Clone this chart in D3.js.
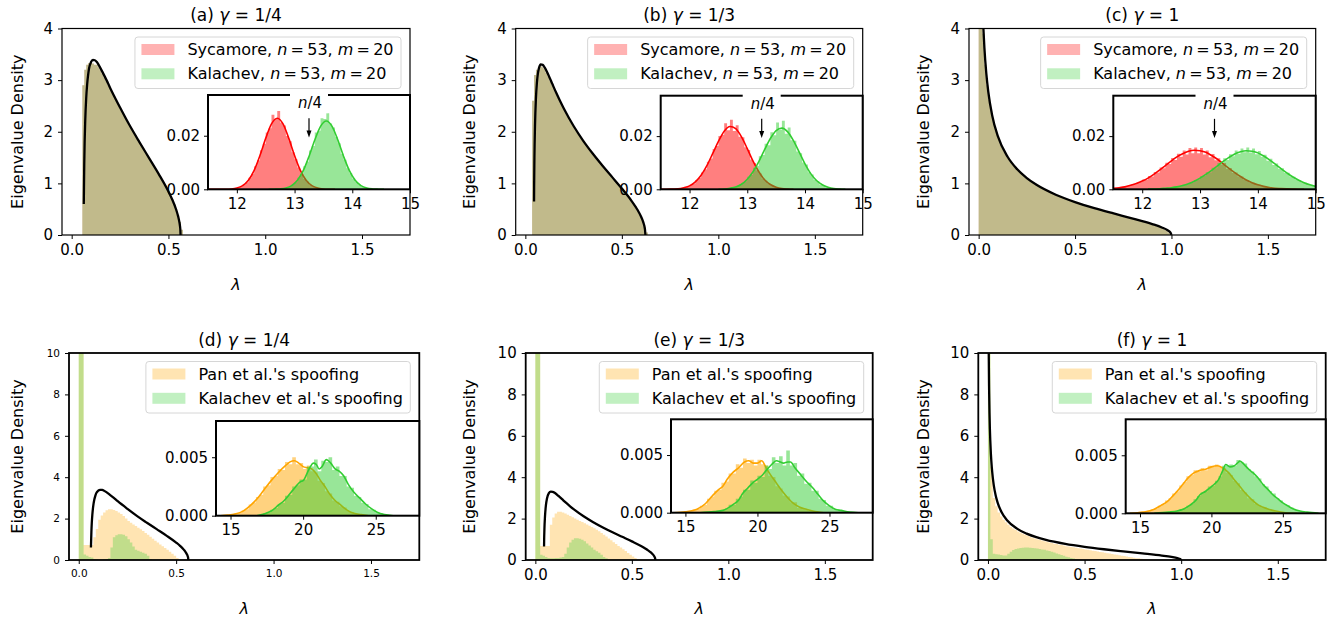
<!DOCTYPE html>
<html>
<head>
<meta charset="utf-8">
<script src="https://cdn.jsdelivr.net/npm/d3@7"></script>
<style>
  body { margin: 0; background: #fff; }
  svg text { font-family: "DejaVu Sans", sans-serif; white-space: pre; }
</style>
</head>
<body>
<svg id="fig" width="1339" height="620"></svg>
<script>
// ---------- values ----------
const mainTicksX = [0, 0.5, 1.0, 1.5];
const topTicksY = [0, 1, 2, 3, 4];
const botTicksY = [0, 2, 4, 6, 8, 10];
const topInsetTicksX = [12, 13, 14, 15];
const topInsetTicksY = [0, 0.02];
const botInsetTicksX = [15, 20, 25];
const botInsetTicksY = [0, 0.005];

// Marchenko-Pastur reference lines [lambda, density]
const mpQuarter = [[0.0626,0.6],[0.0635,0.9],[0.065,1.38],[0.067,1.8],[0.07,2.21],[0.075,2.65],[0.08,2.92],[0.085,3.1],[0.09,3.23],[0.10,3.35],[0.11,3.39],[0.12,3.385],[0.13,3.35],[0.14,3.29],[0.16,3.15],[0.18,3.0],[0.20,2.84],[0.25,2.47],[0.30,2.12],[0.35,1.8],[0.40,1.49],[0.45,1.18],[0.50,0.842],[0.52,0.683],[0.54,0.489],[0.55,0.361],[0.555,0.279],[0.56,0.16],[0.5615,0.1],[0.5625,0]];
const mpThird = [[0.0451,0.65],[0.0455,0.92],[0.047,1.49],[0.05,2.11],[0.055,2.66],[0.06,2.955],[0.07,3.227],[0.08,3.304],[0.09,3.296],[0.10,3.246],[0.12,3.095],[0.14,2.924],[0.16,2.755],[0.18,2.595],[0.20,2.445],[0.25,2.111],[0.30,1.825],[0.35,1.573],[0.40,1.341],[0.45,1.121],[0.50,0.9],[0.55,0.662],[0.58,0.494],[0.60,0.352],[0.61,0.258],[0.62,0.104],[0.622,0]];
const mpOne = [[0.002,14.2],[0.004,10.05],[0.006,8.19],[0.008,7.09],[0.01,6.33],[0.012,5.78],[0.015,5.16],[0.02,4.46],[0.025,3.98],[0.03,3.62],[0.04,3.12],[0.05,2.775],[0.07,2.32],[0.1,1.91],[0.15,1.515],[0.2,1.273],[0.25,1.103],[0.3,0.972],[0.4,0.78],[0.5,0.637],[0.6,0.52],[0.7,0.417],[0.8,0.318],[0.9,0.212],[0.95,0.146],[0.98,0.091],[0.995,0.045],[1.0,0]];

// top row main histograms (bin width 0.01)
const sycMainA = [2.9,3.2,3.3,3.33,3.33,3.32,3.3,3.30,3.25,3.19,3.12,3.05,2.98,2.90,2.83,2.76,2.69,2.62,2.54,2.47,2.40,2.33,2.26,2.19,2.12,2.06,1.99,1.93,1.86,1.80,1.74,1.68,1.61,1.55,1.49,1.43,1.37,1.31,1.24,1.18,1.12,1.05,0.98,0.91,0.84,0.77,0.69,0.60,0.50,0.39,0.25,0.1];
const sycMainB = [2.6,3.1,3.2,3.25,3.27,3.25,3.21,3.14,3.07,2.99,2.91,2.83,2.75,2.67,2.59,2.51,2.44,2.37,2.30,2.24,2.17,2.11,2.05,1.99,1.93,1.88,1.82,1.77,1.72,1.67,1.62,1.57,1.52,1.48,1.43,1.39,1.34,1.30,1.25,1.21,1.16,1.12,1.08,1.03,0.99,0.94,0.90,0.85,0.81,0.76,0.71,0.66,0.61,0.56,0.49,0.43,0.35,0.26,0.15,0.05];
const sycMainC = [12,5.0,3.9,3.3,2.9,2.62,2.4,2.23,2.08,1.96,1.85,1.76,1.68,1.61,1.54,1.48,1.43,1.38,1.33,1.29,1.25,1.21,1.18,1.15,1.11,1.09,1.06,1.03,1.01,0.98,0.96,0.94,0.92,0.90,0.88,0.86,0.84,0.82,0.80,0.79,0.77,0.76,0.74,0.73,0.71,0.70,0.68,0.67,0.66,0.64,0.63,0.62,0.61,0.59,0.58,0.57,0.56,0.55,0.53,0.52,0.51,0.50,0.49,0.48,0.47,0.46,0.45,0.44,0.43,0.42,0.41,0.40,0.39,0.38,0.37,0.36,0.35,0.34,0.33,0.32,0.31,0.30,0.29,0.28,0.27,0.26,0.25,0.24,0.23,0.21,0.20,0.19,0.17,0.16,0.14,0.12,0.10,0.08,0.05,0.03];
// Kalachev's histograms sit exactly on Sycamore's in the figure
const kalMainA = sycMainA;
const kalMainB = sycMainB;
const kalMainC = sycMainC;

// bottom row main histograms (bin width 0.0125 from 0)
const panMainD = [25,11,0.72,0.72,0.72,0.72,1.1,1.5,1.95,2.15,2.3,2.4,2.45,2.45,2.42,2.37,2.3,2.22,2.12,2.0,1.88,1.8,1.72,1.64,1.56,1.48,1.40,1.30,1.22,1.12,1.03,0.93,0.84,0.75,0.66,0.58,0.5,0.4,0.3,0.2,0.1,0.03];
const kalSpoofD = [25,11,0.27,0.2,0.15,0.12,0.05,0.02,0,0,0.02,0.05,0.1,0.6,1.1,1.2,1.25,1.25,1.22,1.15,1.0,0.85,0.65,0.5,0.45,0.4,0.35,0.3,0.2,0.05];
const panMainE = [25,11,0.68,0.68,0.68,0.68,1.7,2.05,2.25,2.33,2.33,2.3,2.25,2.18,2.12,2.06,2.0,1.94,1.88,1.83,1.77,1.72,1.66,1.6,1.53,1.46,1.39,1.3,1.22,1.13,1.04,0.95,0.86,0.77,0.68,0.6,0.52,0.43,0.34,0.25,0.17,0.1,0.05,0.02];
const kalSpoofE = [25,11,0.25,0.2,0.15,0.1,0.08,0.08,0.1,0.1,0.12,0.15,0.3,0.6,0.85,0.98,1.05,1.05,1.03,0.98,0.9,0.8,0.7,0.6,0.5,0.42,0.35,0.25,0.15,0.08,0.03];
const panMainF = [25,4.5,3.0,2.6,2.3,2.1,1.95,1.82,1.7,1.6,1.52,1.45,1.38,1.32,1.27,1.22,1.17,1.12,1.08,1.04,1.0,0.97,0.94,0.91,0.88,0.85,0.82,0.79,0.77,0.74,0.72,0.7,0.67,0.65,0.63,0.61,0.59,0.57,0.55,0.53,0.51,0.49,0.47,0.45,0.43,0.41,0.39,0.37,0.35,0.33,0.31,0.29,0.27,0.25,0.23,0.21,0.19,0.17,0.15,0.13,0.11,0.09,0.08,0.06,0.05,0.04,0.03,0.02,0.01];
const kalSpoofF = [25,1.0,0.3,0.28,0.26,0.24,0.22,0.22,0.3,0.4,0.48,0.53,0.56,0.58,0.59,0.6,0.6,0.59,0.58,0.57,0.55,0.53,0.51,0.49,0.46,0.43,0.4,0.36,0.32,0.28,0.24,0.2,0.16,0.13,0.1,0.07,0.05,0.03,0.01];

// top row insets: histograms (bin width 0.05) and fitted lines
const sycInA = [0.0004,0.0006,0.0011,0.0018,0.0026,0.0043,0.0058,0.0086,0.0108,0.0146,0.0170,0.0212,0.0228,0.0278,0.0262,0.0292,0.0249,0.0238,0.0199,0.0179,0.0138,0.0112,0.0081,0.0062,0.0039,0.0028,0.0016,0.0011,0.0006,0.0003,0.0002,0.0001];
const kalInA = [0.0000,0.0001,0.0001,0.0002,0.0004,0.0006,0.0011,0.0019,0.0026,0.0043,0.0056,0.0086,0.0104,0.0145,0.0162,0.0212,0.0219,0.0265,0.0262,0.0284,0.0246,0.0231,0.0196,0.0172,0.0133,0.0110,0.0079,0.0060,0.0040,0.0027,0.0017,0.0010,0.0006,0.0004,0.0002,0.0001,0.0000,0.0000];
const sycInB = [0.0003,0.0004,0.0008,0.0010,0.0017,0.0022,0.0035,0.0043,0.0063,0.0075,0.0104,0.0116,0.0152,0.0163,0.0200,0.0205,0.0248,0.0222,0.0262,0.0219,0.0241,0.0198,0.0196,0.0158,0.0148,0.0112,0.0099,0.0072,0.0059,0.0041,0.0032,0.0021,0.0015,0.0010,0.0006,0.0004,0.0003,0.0001,0.0001,0.0000];
const kalInB = [0.0005,0.0007,0.0012,0.0015,0.0025,0.0030,0.0047,0.0054,0.0081,0.0088,0.0124,0.0129,0.0171,0.0166,0.0215,0.0203,0.0251,0.0224,0.0258,0.0209,0.0232,0.0184,0.0183,0.0142,0.0136,0.0101,0.0093,0.0064,0.0056,0.0036,0.0030,0.0018,0.0015,0.0008,0.0007,0.0003,0.0002,0.0001];
const sycInC = [0.0004,0.0005,0.0007,0.0008,0.0012,0.0012,0.0018,0.0019,0.0026,0.0027,0.0037,0.0036,0.0050,0.0048,0.0065,0.0063,0.0082,0.0079,0.0100,0.0095,0.0118,0.0110,0.0134,0.0122,0.0146,0.0131,0.0155,0.0136,0.0157,0.0136,0.0155,0.0131,0.0146,0.0121,0.0133,0.0109,0.0117,0.0093,0.0099,0.0077,0.0080,0.0062,0.0063,0.0048,0.0048,0.0035,0.0034,0.0026,0.0025,0.0018,0.0017,0.0012,0.0011,0.0008,0.0006,0.0005,0.0004,0.0003,0.0003,0.0002];
const kalInC = [0.0001,0.0001,0.0001,0.0002,0.0002,0.0003,0.0004,0.0005,0.0007,0.0008,0.0011,0.0012,0.0017,0.0018,0.0025,0.0026,0.0035,0.0037,0.0049,0.0050,0.0064,0.0063,0.0081,0.0079,0.0099,0.0096,0.0117,0.0110,0.0132,0.0124,0.0146,0.0134,0.0153,0.0139,0.0157,0.0138,0.0153,0.0132,0.0144,0.0122,0.0130,0.0107,0.0115,0.0091,0.0097,0.0077,0.0079,0.0062,0.0062,0.0048,0.0047,0.0036,0.0034,0.0026,0.0025,0.0019,0.0017,0.0012];

const sycFitA = [[11.5,0],[11.6,0],[11.7,0],[11.8,0.00003],[11.9,0.00013],[12.0,0.00046],[12.1,0.00135],[12.2,0.00336],[12.3,0.00707],[12.4,0.0126],[12.5,0.019],[12.6,0.0244],[12.7,0.0265],[12.8,0.0244],[12.9,0.019],[13.0,0.0126],[13.1,0.00707],[13.2,0.00336],[13.3,0.00135],[13.4,0.00046],[13.5,0.00013],[13.6,0.00003],[13.7,0]];
const kalFitA = [[12.55,0],[12.65,0.00004],[12.75,0.00014],[12.85,0.00047],[12.95,0.00137],[13.05,0.00334],[13.15,0.00694],[13.25,0.01227],[13.35,0.0184],[13.45,0.0235],[13.55,0.0255],[13.65,0.0235],[13.75,0.0184],[13.85,0.01227],[13.95,0.00694],[14.05,0.00334],[14.15,0.00137],[14.25,0.00047],[14.35,0.00014],[14.45,0.00004],[14.55,0]];
const sycFitB = [[11.5,0],[11.6,0],[11.7,0.0001],[11.8,0.0002],[11.9,0.0006],[12.0,0.0013],[12.1,0.0028],[12.2,0.0053],[12.3,0.0089],[12.4,0.0134],[12.5,0.018],[12.6,0.0218],[12.7,0.0236],[12.8,0.0228],[12.9,0.0197],[13.0,0.0153],[13.1,0.0106],[13.2,0.0066],[13.3,0.0036],[13.4,0.0018],[13.5,0.0008],[13.6,0.0003],[13.7,0.0001],[13.8,0]];
const kalFitB = [[12.5,0],[12.6,0.0001],[12.7,0.0004],[12.8,0.0009],[12.9,0.0019],[13.0,0.0038],[13.1,0.0066],[13.2,0.0104],[13.3,0.0149],[13.4,0.0191],[13.5,0.0221],[13.6,0.023],[13.7,0.0216],[13.8,0.0183],[13.9,0.014],[14.0,0.0096],[14.1,0.0059],[14.2,0.0033],[14.3,0.0017],[14.4,0.0008],[14.5,0.0003],[14.6,0.0001],[14.7,0]];
const sycFitC = [[11.5,0.0004],[11.6,0.0006],[11.7,0.0009],[11.8,0.0015],[11.9,0.0022],[12.0,0.0031],[12.1,0.0042],[12.2,0.0056],[12.3,0.0072],[12.4,0.0089],[12.5,0.0106],[12.6,0.0122],[12.7,0.0134],[12.8,0.0143],[12.9,0.0147],[13.0,0.0145],[13.1,0.0139],[13.2,0.0127],[13.3,0.0113],[13.4,0.0096],[13.5,0.0079],[13.6,0.0063],[13.7,0.0048],[13.8,0.0035],[13.9,0.0025],[14.0,0.0017],[14.1,0.0011],[14.2,0.0007],[14.3,0.0004],[14.4,0.0003],[14.5,0.0002],[14.6,0.0001],[14.7,0],[14.8,0]];
const kalFitC = [[12.1,0.0001],[12.2,0.0001],[12.3,0.0002],[12.4,0.0004],[12.5,0.0006],[12.6,0.0009],[12.7,0.0014],[12.8,0.0021],[12.9,0.003],[13.0,0.0042],[13.1,0.0056],[13.2,0.0071],[13.3,0.0088],[13.4,0.0105],[13.5,0.012],[13.6,0.0133],[13.7,0.0141],[13.8,0.0145],[13.9,0.0143],[14.0,0.0137],[14.1,0.0125],[14.2,0.0111],[14.3,0.0095],[14.4,0.0078],[14.5,0.0062],[14.6,0.0047],[14.7,0.0035],[14.8,0.0025],[14.9,0.0017],[15.0,0.0011]];

// bottom row insets: histograms (bin width 0.25) and smoothed density lines
const panInD = [0.00002,0.00007,0.00009,0.00018,0.00025,0.00044,0.00056,0.00095,0.00112,0.0016,0.0018,0.0025,0.0026,0.0033,0.0034,0.0040,0.0039,0.0046,0.0044,0.0050,0.0044,0.0045,0.0040,0.0043,0.0038,0.0037,0.0030,0.0028,0.0021,0.0019,0.0013,0.0012,0.0008,0.0007,0.0004,0.0003,0.00016,0.00013,0.00007,0.00004];
const kalInD = [0,0.00003,0.00009,0.00022,0.00028,0.0005,0.00066,0.0010,0.0011,0.0017,0.0018,0.0025,0.0026,0.0031,0.0031,0.0042,0.0042,0.0048,0.0038,0.0047,0.0046,0.0050,0.0039,0.0042,0.0034,0.0034,0.0025,0.0024,0.0017,0.0016,0.0011,0.0010,0.00055,0.0005,0.00027,0.00022,0.00009,0.00007,0.00002,0.00001];
const panInE = [0.00002,0.00005,0.00011,0.00014,0.00027,0.00033,0.0006,0.0007,0.0012,0.0014,0.0019,0.0020,0.0026,0.0027,0.0034,0.0034,0.0042,0.0039,0.0047,0.0043,0.0046,0.0041,0.0046,0.0042,0.0041,0.0032,0.0031,0.0023,0.0021,0.0015,0.0014,0.0009,0.0009,0.0004,0.0004,0.0003,0.0002,0.00012,0.00008,0.00003];
const kalInE = [0.00004,0.0001,0.00014,0.00015,0.00024,0.00036,0.0007,0.0007,0.0012,0.0014,0.0020,0.0020,0.0028,0.0026,0.0032,0.0031,0.0041,0.0038,0.0048,0.0043,0.0049,0.0041,0.0054,0.0041,0.0043,0.0032,0.0034,0.0025,0.0026,0.0019,0.0019,0.0012,0.0011,0.0006,0.0006,0.0003,0.0002,0.00015,0.0001,0.00004];
const panInF = [0.00003,0.00006,0.0001,0.00016,0.00022,0.00032,0.00042,0.00064,0.00078,0.0011,0.0013,0.0017,0.0019,0.0024,0.0027,0.0032,0.0033,0.0037,0.0036,0.0039,0.0037,0.0041,0.0040,0.0042,0.0040,0.0039,0.0035,0.0033,0.0028,0.0026,0.0020,0.0018,0.0013,0.0012,0.0008,0.0007,0.0005,0.0004,0.0003,0.0002];
const kalInF = [0.00005,0.0001,0.00012,0.00017,0.0002,0.00032,0.0004,0.00065,0.0008,0.0012,0.0015,0.0018,0.0019,0.0023,0.0024,0.0028,0.0032,0.0041,0.0041,0.0042,0.0041,0.0046,0.0044,0.0043,0.0038,0.0036,0.0032,0.0030,0.0025,0.0023,0.0019,0.0017,0.0013,0.0011,0.0008,0.0007,0.0005,0.0003,0.0002,0.00015];

const panKdeD = [[14.3,0],[14.8,0.00005],[15.3,0.00014],[15.8,0.00035],[16.3,0.0008],[16.8,0.0014],[17.3,0.0022],[17.8,0.003],[18.3,0.0037],[18.8,0.0043],[19.1,0.0046],[19.4,0.0047],[19.7,0.0045],[20.0,0.0042],[20.3,0.0041],[20.6,0.004],[20.9,0.0036],[21.2,0.003],[21.5,0.0025],[21.8,0.0019],[22.2,0.0013],[22.6,0.0009],[23.0,0.0005],[23.5,0.0002],[24.0,0.0001],[24.5,0]];
const kalKdeD = [[16.8,0],[17.3,0.00015],[17.8,0.0004],[18.3,0.0009],[18.7,0.0013],[19.1,0.0019],[19.5,0.0025],[19.8,0.0029],[20.0,0.003],[20.3,0.0037],[20.5,0.0042],[20.7,0.0045],[20.9,0.0044],[21.1,0.004],[21.3,0.0042],[21.6,0.0048],[21.9,0.0045],[22.2,0.004],[22.5,0.0038],[22.8,0.0034],[23.1,0.0027],[23.5,0.002],[23.9,0.0015],[24.3,0.001],[24.7,0.0006],[25.1,0.0003],[25.6,0.0001],[26.2,0]];
const panKdeE = [[14.2,0],[15.0,0.00008],[15.8,0.0003],[16.4,0.0008],[16.9,0.0015],[17.3,0.002],[17.6,0.0023],[17.9,0.0029],[18.3,0.0035],[18.7,0.0039],[19.1,0.0044],[19.4,0.0045],[19.7,0.0043],[20.0,0.0043],[20.3,0.0045],[20.6,0.0039],[20.9,0.0033],[21.3,0.0026],[21.7,0.0019],[22.1,0.0013],[22.5,0.0008],[22.9,0.0005],[23.4,0.0003],[24.0,0.0001],[24.6,0]];
const kalKdeE = [[16.0,0],[17.0,0.0001],[17.6,0.0002],[18.3,0.0007],[18.7,0.0011],[19.0,0.0017],[19.3,0.0021],[19.6,0.0025],[20.0,0.0029],[20.3,0.0032],[20.7,0.0038],[21.0,0.0042],[21.3,0.0045],[21.6,0.0044],[21.8,0.0043],[22.1,0.0044],[22.3,0.0044],[22.6,0.0039],[23.0,0.0033],[23.4,0.0027],[23.8,0.0022],[24.2,0.0016],[24.6,0.001],[25.0,0.0006],[25.4,0.0003],[25.8,0.0002],[26.4,0.00005],[27.0,0]];
const panKdeF = [[14.3,0],[15.2,0.0001],[16.0,0.00035],[16.5,0.0007],[16.9,0.001],[17.3,0.0015],[17.6,0.0019],[18.0,0.0025],[18.4,0.0031],[18.8,0.0035],[19.2,0.0037],[19.6,0.0038],[20.0,0.004],[20.4,0.0041],[20.8,0.0039],[21.2,0.0035],[21.6,0.0029],[22.0,0.0023],[22.4,0.0017],[22.8,0.0012],[23.3,0.0007],[23.9,0.0004],[24.5,0.0002],[25.2,0.00005],[26.0,0]];
const kalKdeF = [[16.0,0],[17.0,0.0001],[17.6,0.0002],[18.1,0.0004],[18.5,0.0007],[18.9,0.0011],[19.2,0.0016],[19.6,0.0019],[19.9,0.0022],[20.2,0.0025],[20.5,0.0029],[20.8,0.0037],[21.0,0.0042],[21.3,0.004],[21.6,0.0041],[21.8,0.0043],[22.0,0.0045],[22.3,0.0042],[22.6,0.0038],[22.9,0.0035],[23.3,0.003],[23.6,0.0025],[24.0,0.002],[24.3,0.0016],[24.7,0.0012],[25.0,0.0009],[25.4,0.0006],[25.7,0.0004],[26.2,0.0002],[26.7,0.0001],[27.5,0]];

// ---------- styles ----------
const col = {
  sycMain: "rgba(255,0,0,0.3)", kalMain: "rgba(50,205,50,0.3)", panMain: "rgba(255,165,0,0.3)",
  sycIn: "rgba(255,0,0,0.5)", kalIn: "rgba(50,205,50,0.5)", panIn: "rgba(255,165,0,0.5)",
  red: "#ff0000", green: "#32cd32", orange: "#ffa500"
};

// thin spaces around "=" as in the math-text legend entries
const topLegend = [
  { fill: col.sycMain, parts: [["Sycamore, ", 0], ["n", 1], ["\u2009=\u200953, ", 0], ["m", 1], ["\u2009=\u200920", 0]] },
  { fill: col.kalMain, parts: [["Kalachev, ", 0], ["n", 1], ["\u2009=\u200953, ", 0], ["m", 1], ["\u2009=\u200920", 0]] }
];
const botLegend = [
  { fill: col.panMain, parts: [["Pan et al.'s spoofing", 0]] },
  { fill: col.kalMain, parts: [["Kalachev et al.'s spoofing", 0]] }
];

const FS_TICK = 15, FS_LABEL = 16, FS_TITLE = 17, FS_LEGEND = 16;
const rowTop = { T: 28.5, B: 235, yMax: 4, yTicks: topTicksY, titleY: 21, lamY: 290, spine: 1.2 };
const rowBot = { T: 353, B: 560, yMax: 10, yTicks: botTicksY, titleY: 346, lamY: 614, spine: 1.8 };

const panels = [
  { row: rowTop, L: 62, R: 410, ylabX: 17, label: "(a) ", gamma: " = 1/4", curve: mpQuarter,
    hists: [[0.055, 0.01, sycMainA, col.sycMain], [0.055, 0.01, kalMainA, col.kalMain]], legend: topLegend,
    inset: { L: 208, T: 95, R: 410, B: 189.3, isTop: true,
      hists: [[11.95, 0.05, sycInA, col.sycIn, sycFitA, col.red], [12.6, 0.05, kalInA, col.kalIn, kalFitA, col.green]] } },
  { row: rowTop, L: 515.7, R: 862.7, ylabX: 469.3, label: "(b) ", gamma: " = 1/3", curve: mpThird,
    hists: [[0.035, 0.01, sycMainB, col.sycMain], [0.035, 0.01, kalMainB, col.kalMain]], legend: topLegend,
    inset: { L: 660.7, T: 95.7, R: 862.7, B: 189.3, isTop: true,
      hists: [[11.8, 0.05, sycInB, col.sycIn, sycFitB, col.red], [12.7, 0.05, kalInB, col.kalIn, kalFitB, col.green]] } },
  { row: rowTop, L: 969, R: 1315.7, ylabX: 923.3, label: "(c) ", gamma: " = 1", curve: mpOne,
    hists: [[0, 0.01, sycMainC, col.sycMain], [0, 0.01, kalMainC, col.kalMain]], legend: topLegend,
    inset: { L: 1113.3, T: 95.7, R: 1315.7, B: 189.3, isTop: true,
      hists: [[11.5, 0.05, sycInC, col.sycIn, sycFitC, col.red], [12.1, 0.05, kalInC, col.kalIn, kalFitC, col.green]] } },
  { row: rowBot, L: 69, R: 419.3, ylabX: 16.7, small: true, label: "(d) ", gamma: " = 1/4", curve: mpQuarter,
    hists: [[0, 0.0125, panMainD, col.panMain], [0, 0.0125, kalSpoofD, col.kalMain]], legend: botLegend,
    inset: { L: 216, T: 421, R: 419.3, B: 515.7, isTop: false,
      hists: [[14.5, 0.25, panInD, col.panIn, panKdeD, col.orange], [16.5, 0.25, kalInD, col.kalIn, kalKdeD, col.green]] } },
  { row: rowBot, L: 525.7, R: 872.7, ylabX: 469.3, label: "(e) ", gamma: " = 1/3", curve: mpThird,
    hists: [[0, 0.0125, panMainE, col.panMain], [0, 0.0125, kalSpoofE, col.kalMain]], legend: botLegend,
    inset: { L: 671, T: 419.3, R: 872.7, B: 512.7, isTop: false,
      hists: [[14.5, 0.25, panInE, col.panIn, panKdeE, col.orange], [16.5, 0.25, kalInE, col.kalIn, kalKdeE, col.green]] } },
  { row: rowBot, L: 978.3, R: 1325.7, ylabX: 923.3, label: "(f) ", gamma: " = 1", curve: mpOne,
    hists: [[0, 0.0125, panMainF, col.panMain], [0, 0.0125, kalSpoofF, col.kalMain]], legend: botLegend,
    inset: { L: 1125.7, T: 419.3, R: 1325.7, B: 513.3, isTop: false,
      hists: [[14.5, 0.25, panInF, col.panIn, panKdeF, col.orange], [16.5, 0.25, kalInF, col.kalIn, kalKdeF, col.green]] } }
];

// ---------- drawing ----------
const svg = d3.select("#fig");
const defs = svg.append("defs");
let clipId = 0;

function rich(sel, parts) {
  parts.forEach(([t, it]) => sel.append("tspan").attr("font-style", it ? "italic" : null).text(t));
  return sel;
}

function clipTo(L, T, R, B) {
  const id = "clip" + (clipId++);
  defs.append("clipPath").attr("id", id).append("rect")
    .attr("x", L).attr("y", T).attr("width", R - L).attr("height", B - T);
  return "url(#" + id + ")";
}

function histPath(x, y, start, width, values) {
  const pts = values.map((v, i) => [start + i * width, v]);
  pts.push([start + values.length * width, values[values.length - 1]]);
  return d3.area().x(d => x(d[0])).y0(y(0)).y1(d => y(d[1])).curve(d3.curveStepAfter)(pts);
}

function styleAxis(g, size) {
  g.attr("font-family", "DejaVu Sans").attr("font-size", size);
  g.select(".domain").remove();
  g.selectAll(".tick line").attr("stroke", "#000");
  g.selectAll(".tick text").attr("fill", "#000");
}

function drawPanel(p) {
  const r = p.row;
  const x = d3.scaleLinear().domain([-0.05, 1.748]).range([p.L, p.R]);
  const y = d3.scaleLinear().domain([0, r.yMax]).range([r.B, r.T]);
  const g = svg.append("g");
  const body = g.append("g").attr("clip-path", clipTo(p.L, r.T, p.R, r.B));

  p.hists.forEach(([s, w, vals, c]) => body.append("path").attr("d", histPath(x, y, s, w, vals)).attr("fill", c));
  body.append("path").datum(p.curve)
    .attr("d", d3.line().x(d => x(d[0])).y(d => y(d[1])).curve(d3.curveMonotoneX))
    .attr("fill", "none").attr("stroke", "#000").attr("stroke-width", 2.3);

  const fs = p.small ? 10.5 : FS_TICK;
  const xa = g.append("g").attr("transform", `translate(0,${r.B})`)
    .call(d3.axisBottom(x).tickValues(mainTicksX).tickFormat(d3.format(".1f")).tickSize(4).tickPadding(p.small ? 6 : 5));
  styleAxis(xa, fs);
  const ya = g.append("g").attr("transform", `translate(${p.L},0)`)
    .call(d3.axisLeft(y).tickValues(r.yTicks).tickFormat(d3.format("d")).tickSize(4).tickPadding(5));
  styleAxis(ya, fs);

  g.append("rect").attr("x", p.L).attr("y", r.T).attr("width", p.R - p.L).attr("height", r.B - r.T)
    .attr("fill", "none").attr("stroke", "#000").attr("stroke-width", r.spine);

  const cx = (p.L + p.R) / 2;
  rich(g.append("text").attr("x", cx).attr("y", r.titleY).attr("text-anchor", "middle").attr("font-size", FS_TITLE),
    [[p.label, 0], ["γ", 1], [p.gamma, 0]]);
  g.append("text").attr("x", cx).attr("y", r.lamY).attr("text-anchor", "middle")
    .attr("font-size", FS_LABEL).attr("font-style", "italic").text("λ");
  g.append("text").attr("transform", `translate(${p.ylabX + 6},${(r.T + r.B) / 2}) rotate(-90)`)
    .attr("text-anchor", "middle").attr("font-size", FS_LABEL).text("Eigenvalue Density");

  drawInset(p.inset);
  drawLegend(p.legend, p.R - 9, r.T + 8.5);
}

function drawInset(ins) {
  const x = d3.scaleLinear().domain(ins.isTop ? [11.5, 15] : [14, 28]).range([ins.L, ins.R]);
  const y = d3.scaleLinear().domain(ins.isTop ? [0, 0.0352] : [0, 0.0081]).range([ins.B, ins.T]);
  const g = svg.append("g");
  g.append("rect").attr("x", ins.L).attr("y", ins.T).attr("width", ins.R - ins.L).attr("height", ins.B - ins.T).attr("fill", "#fff");
  const body = g.append("g").attr("clip-path", clipTo(ins.L, ins.T, ins.R, ins.B));
  const line = d3.line().x(d => x(d[0])).y(d => y(d[1])).curve(d3.curveMonotoneX);
  ins.hists.forEach(([s, w, vals, c, fit, lc]) => {
    body.append("path").attr("d", histPath(x, y, s, w, vals)).attr("fill", c);
    body.append("path").datum(fit).attr("d", line).attr("fill", "none").attr("stroke", lc).attr("stroke-width", 1.6);
  });

  const xa = g.append("g").attr("transform", `translate(0,${ins.B})`)
    .call(d3.axisBottom(x).tickValues(ins.isTop ? topInsetTicksX : botInsetTicksX).tickFormat(d3.format("d")).tickSize(4).tickPadding(5));
  styleAxis(xa, FS_TICK);
  const ya = g.append("g").attr("transform", `translate(${ins.L},0)`)
    .call(d3.axisLeft(y).tickValues(ins.isTop ? topInsetTicksY : botInsetTicksY)
      .tickFormat(d3.format(ins.isTop ? ".2f" : ".3f")).tickSize(4).tickPadding(4));
  styleAxis(ya, FS_TICK);
  g.append("rect").attr("x", ins.L).attr("y", ins.T).attr("width", ins.R - ins.L).attr("height", ins.B - ins.T)
    .attr("fill", "none").attr("stroke", "#000").attr("stroke-width", 2);

  if (ins.isTop) {
    // n/4 marker with white box and arrow
    const ax = x(13.25);
    const tb = y(0.0303);
    g.append("rect").attr("x", ax - 19).attr("y", tb - 18).attr("width", 38).attr("height", 23).attr("fill", "#fff");
    rich(g.append("text").attr("x", ax + 1).attr("y", tb).attr("text-anchor", "middle").attr("font-size", FS_TICK),
      [["n", 1], ["/4", 0]]);
    const y0 = y(0.0265), y1 = y(0.0193);
    g.append("line").attr("x1", ax).attr("x2", ax).attr("y1", y0).attr("y2", y1 - 5)
      .attr("stroke", "#000").attr("stroke-width", 1.2);
    g.append("path").attr("d", `M${ax - 2.5},${y1 - 7}L${ax + 2.5},${y1 - 7}L${ax},${y1}Z`).attr("fill", "#000");
  }
}

function drawLegend(items, right, topY) {
  const g = svg.append("g");
  const frame = g.append("rect");
  const texts = items.map((it, i) => {
    const cy = topY + 12.5 + i * 24.3;
    g.append("rect").attr("x", 0).attr("y", cy - 5.5).attr("width", 33).attr("height", 11).attr("fill", it.fill).attr("class", "patch");
    return rich(g.append("text").attr("y", cy + 5.6).attr("font-size", FS_LEGEND), it.parts);
  });
  const w = d3.max(texts, t => t.node().getComputedTextLength()) + 52 + 8;
  const left = right - w;
  g.selectAll(".patch").attr("x", left + 6.5);
  texts.forEach(t => t.attr("x", left + 52.5));
  frame.attr("x", left).attr("y", topY).attr("width", w).attr("height", 51.5).attr("rx", 3)
    .attr("fill", "rgba(255,255,255,0.8)").attr("stroke", "#d6d6d6").attr("stroke-width", 1);
}

panels.forEach(drawPanel);
</script>
</body>
</html>
